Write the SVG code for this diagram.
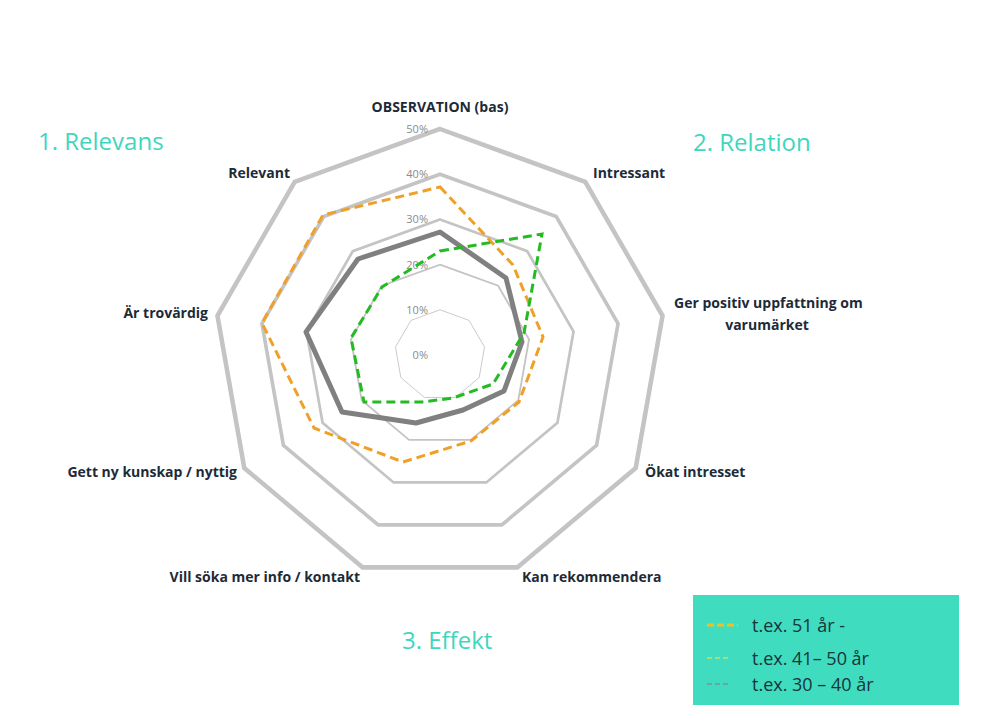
<svg xmlns="http://www.w3.org/2000/svg" width="1000" height="712" viewBox="0 0 1000 712">
<style>
text{font-family:"Open Sans","Liberation Sans",sans-serif}
.ax{font-size:14px;font-weight:bold;fill:#1d2b38}
.pc{font-size:11px;fill:#8a8a8a;text-anchor:end}
.ti{font-size:24px;fill:#3fd6be}
.lg{font-size:18px;fill:#17353a}
.ring{fill:none;stroke:#c4c4c4;stroke-width:2;vector-effect:non-scaling-stroke}
</style>
<defs>
<polygon id="u" points="0,-100 64.28,-76.60 98.48,-17.36 86.60,50 34.20,93.97 -34.20,93.97 -86.60,50 -98.48,-17.36 -64.28,-76.60"/>
</defs>
<rect width="1000" height="712" fill="#fff"/>
<g id="grid">
<use href="#u" class="ring" transform="translate(440 355) scale(0.452)"/>
<use href="#u" class="ring" transform="translate(440 355) scale(0.904)"/>
<use href="#u" class="ring" transform="translate(440 355) scale(1.356)"/>
<use href="#u" class="ring" transform="translate(440 355) scale(1.808)"/>
<use href="#u" class="ring" transform="translate(440 355) scale(2.26)"/>
</g>
<g id="percent">
<text class="pc" x="428" y="359">0%</text>
<text class="pc" x="428" y="314">10%</text>
<text class="pc" x="428" y="269">20%</text>
<text class="pc" x="428" y="223">30%</text>
<text class="pc" x="428" y="178">40%</text>
<text class="pc" x="428" y="133">50%</text>
</g>
<g id="series">
<polygon fill="none" stroke="#808080" stroke-width="5" stroke-linejoin="round" points="440,232 506,278 522,342 504,391 463,410 416,423 342,412 306,332 358,259"/>
<polygon fill="none" stroke="#f0a028" stroke-width="3" stroke-dasharray="9,5" points="440,187 513,265 543,337 519,402 471,441 403,462 314,428 262,323 323,215"/>
<polygon fill="none" stroke="#22bb22" stroke-width="3" stroke-dasharray="9,5" points="440,251 542,234 524,333 493,384 453,398 422,402 364,402 351,338 382,287"/>
</g>
<g id="labels">
<text class="ax" x="440" y="112" text-anchor="middle">OBSERVATION (bas)</text>
<text class="ax" x="593" y="178">Intressant</text>
<text class="ax" x="674" y="308">Ger positiv uppfattning om</text>
<text class="ax" x="767" y="330" text-anchor="middle">varumärket</text>
<text class="ax" x="645" y="477">Ökat intresset</text>
<text class="ax" x="522" y="582">Kan rekommendera</text>
<text class="ax" x="360" y="582" text-anchor="end">Vill söka mer info / kontakt</text>
<text class="ax" x="237" y="477" text-anchor="end">Gett ny kunskap / nyttig</text>
<text class="ax" x="208" y="318" text-anchor="end">Är trovärdig</text>
<text class="ax" x="290" y="178" text-anchor="end">Relevant</text>
</g>
<g id="titles">
<text class="ti" x="38" y="150">1. Relevans</text>
<text class="ti" x="693" y="151">2. Relation</text>
<text class="ti" x="402" y="649">3. Effekt</text>
</g>
<g id="legend">
<rect x="693" y="595" width="266" height="110" fill="#3fdcc0"/>
<line x1="707" y1="625" x2="738" y2="625" stroke="#f0c020" stroke-width="3" stroke-dasharray="7,3"/>
<text class="lg" x="752" y="632">t.ex. 51 år -</text>
<line x1="707" y1="658" x2="728" y2="658" stroke="#c8e060" stroke-width="1.5" stroke-dasharray="5,3"/>
<text class="lg" x="752" y="665">t.ex. 41– 50 år</text>
<line x1="707" y1="684" x2="728" y2="684" stroke="#8090a0" stroke-width="1.5" stroke-dasharray="5,3"/>
<text class="lg" x="752" y="691">t.ex. 30 – 40 år</text>
</g>
</svg>
